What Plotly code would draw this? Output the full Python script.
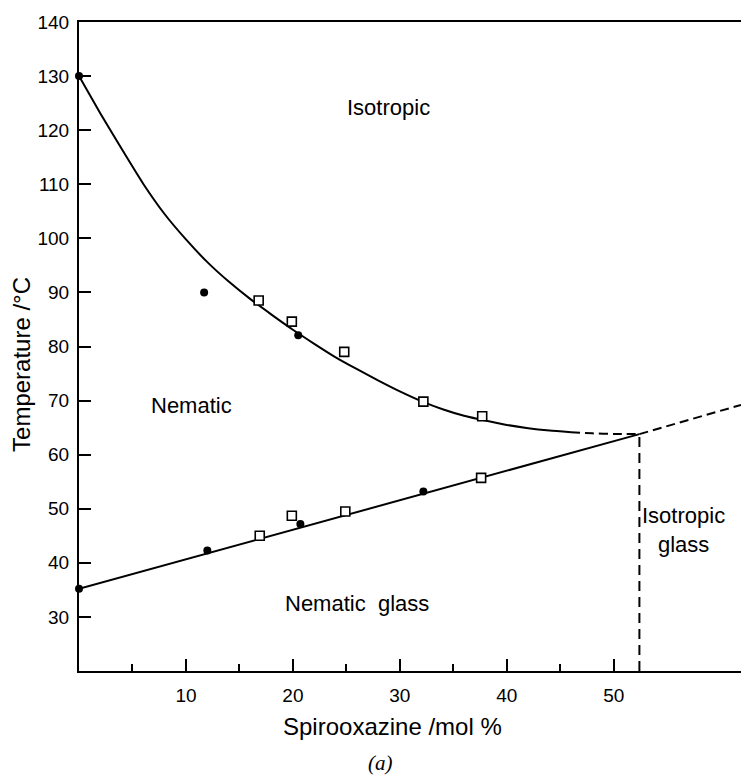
import plotly.graph_objects as go

# Upper phase boundary (nematic -> isotropic), solid part
upper_x = [0, 2, 4, 6, 8, 10, 12, 14, 16, 18, 20, 22, 24, 26, 28, 30, 32, 34, 36, 38, 40, 42, 44, 46]
upper_T = [130, 123.1, 116.5, 110.1, 104.5, 99.8, 95.6, 92.0, 88.8, 85.9, 83.1, 80.5,
           78.0, 75.8, 73.7, 71.7, 69.9, 68.4, 67.2, 66.3, 65.5, 64.9, 64.46, 64.14]
# Extrapolated (dashed) end of the upper boundary
upper_dash_x = [46, 48, 50, 52.4]
upper_dash_T = [64.14, 63.94, 63.84, 63.8]

# Glass transition line (solid) and its dashed continuation
glass_x = [0, 52.4]
glass_T = [35.2, 63.8]
glass_dash_x = [52.4, 61.9]
glass_dash_T = [63.8, 69.2]

# Vertical boundary between nematic glass and isotropic glass
vert_x = [52.4, 52.4]
vert_T = [20, 63.8]

# Measured points: filled circles and open squares
circle_x = [0, 11.7, 20.5, 0, 12.0, 20.7, 32.2]
circle_T = [130, 90.0, 82.1, 35.2, 42.3, 47.2, 53.2]
square_x = [16.8, 19.9, 24.8, 32.2, 37.7, 16.9, 19.9, 24.9, 37.6]
square_T = [88.5, 84.6, 79.0, 69.8, 67.1, 45.0, 48.7, 49.5, 55.7]

# Axis ticks
x_major = [10, 20, 30, 40, 50]
x_minor = [5, 15, 25, 35, 45]
y_ticks = [30, 40, 50, 60, 70, 80, 90, 100, 110, 120, 130, 140]

FONT = "Liberation Sans"
INK = "black"

fig = go.Figure()

solid = dict(color=INK, width=2)
dashed = dict(color=INK, width=2, dash="9px,5px")

fig.add_trace(go.Scatter(x=upper_x, y=upper_T, mode="lines",
                         line=dict(shape="spline", smoothing=0.5, **solid), cliponaxis=False))
fig.add_trace(go.Scatter(x=upper_dash_x, y=upper_dash_T, mode="lines",
                         line=dict(shape="spline", smoothing=0.5, **dashed), cliponaxis=False))
fig.add_trace(go.Scatter(x=glass_x, y=glass_T, mode="lines", line=solid, cliponaxis=False))
fig.add_trace(go.Scatter(x=glass_dash_x, y=glass_dash_T, mode="lines", line=dashed))
fig.add_trace(go.Scatter(x=vert_x, y=vert_T, mode="lines", line=dict(color=INK, width=2, dash="10px,6px")))

fig.add_trace(go.Scatter(
    x=square_x, y=square_T, mode="markers", cliponaxis=False,
    marker=dict(symbol="square", size=9, color="white", line=dict(color=INK, width=1.6)),
))
fig.add_trace(go.Scatter(
    x=circle_x, y=circle_T, mode="markers", cliponaxis=False,
    marker=dict(symbol="circle", size=8, color=INK, line=dict(width=0)),
))

region_font = dict(family=FONT, size=22, color=INK)
labels = [
    ("Isotropic", 28.9, 124.1),
    ("Nematic", 10.5, 69.0),
    ("Nematic  glass", 26.0, 32.4),
    ("Isotropic<br>glass", 56.5, 46.1),
]
for text, lx, ly in labels:
    fig.add_annotation(x=lx, y=ly, text=text, showarrow=False, font=region_font,
                       xanchor="center", yanchor="middle", align="center")

# Axis titles and panel label
fig.add_annotation(x=29.3, xref="x", y=-0.085, yref="paper", text="Spirooxazine /mol %",
                   showarrow=False, font=dict(family=FONT, size=24, color=INK),
                   xanchor="center", yanchor="middle")
fig.add_annotation(x=-0.086, xref="paper", y=76.6, yref="y", text="Temperature /°C",
                   textangle=-90, showarrow=False, font=dict(family=FONT, size=24, color=INK),
                   xanchor="center", yanchor="middle")
fig.add_annotation(x=28.2, xref="x", y=-0.142, yref="paper", text="<i>(a)</i>",
                   showarrow=False, font=dict(family="Liberation Serif", size=21, color=INK),
                   xanchor="center", yanchor="middle")

fig.update_layout(
    width=741, height=775,
    margin=dict(l=79, r=0, t=22, b=104),
    paper_bgcolor="white", plot_bgcolor="white",
    showlegend=False,
    font=dict(family=FONT, color=INK),
)

fig.update_xaxes(
    range=[0, 61.9], showgrid=False, zeroline=False,
    showline=True, linecolor=INK, linewidth=2, mirror=True,
    tickmode="array", tickvals=x_major, ticktext=[str(v) for v in x_major],
    ticks="inside", ticklen=12, tickwidth=2, tickcolor=INK,
    tickfont=dict(family=FONT, size=19, color=INK), ticklabelstandoff=6,
    minor=dict(tickmode="array", tickvals=x_minor, ticks="inside", ticklen=7, tickwidth=2, tickcolor=INK, showgrid=False),
)
fig.update_yaxes(
    range=[20, 140], showgrid=False, zeroline=False,
    showline=True, linecolor=INK, linewidth=2,
    tickmode="array", tickvals=y_ticks, ticktext=[str(v) for v in y_ticks],
    ticks="inside", ticklen=12, tickwidth=2, tickcolor=INK,
    tickfont=dict(family=FONT, size=19, color=INK), ticklabelstandoff=4,
)

fig.write_html("out.html")
